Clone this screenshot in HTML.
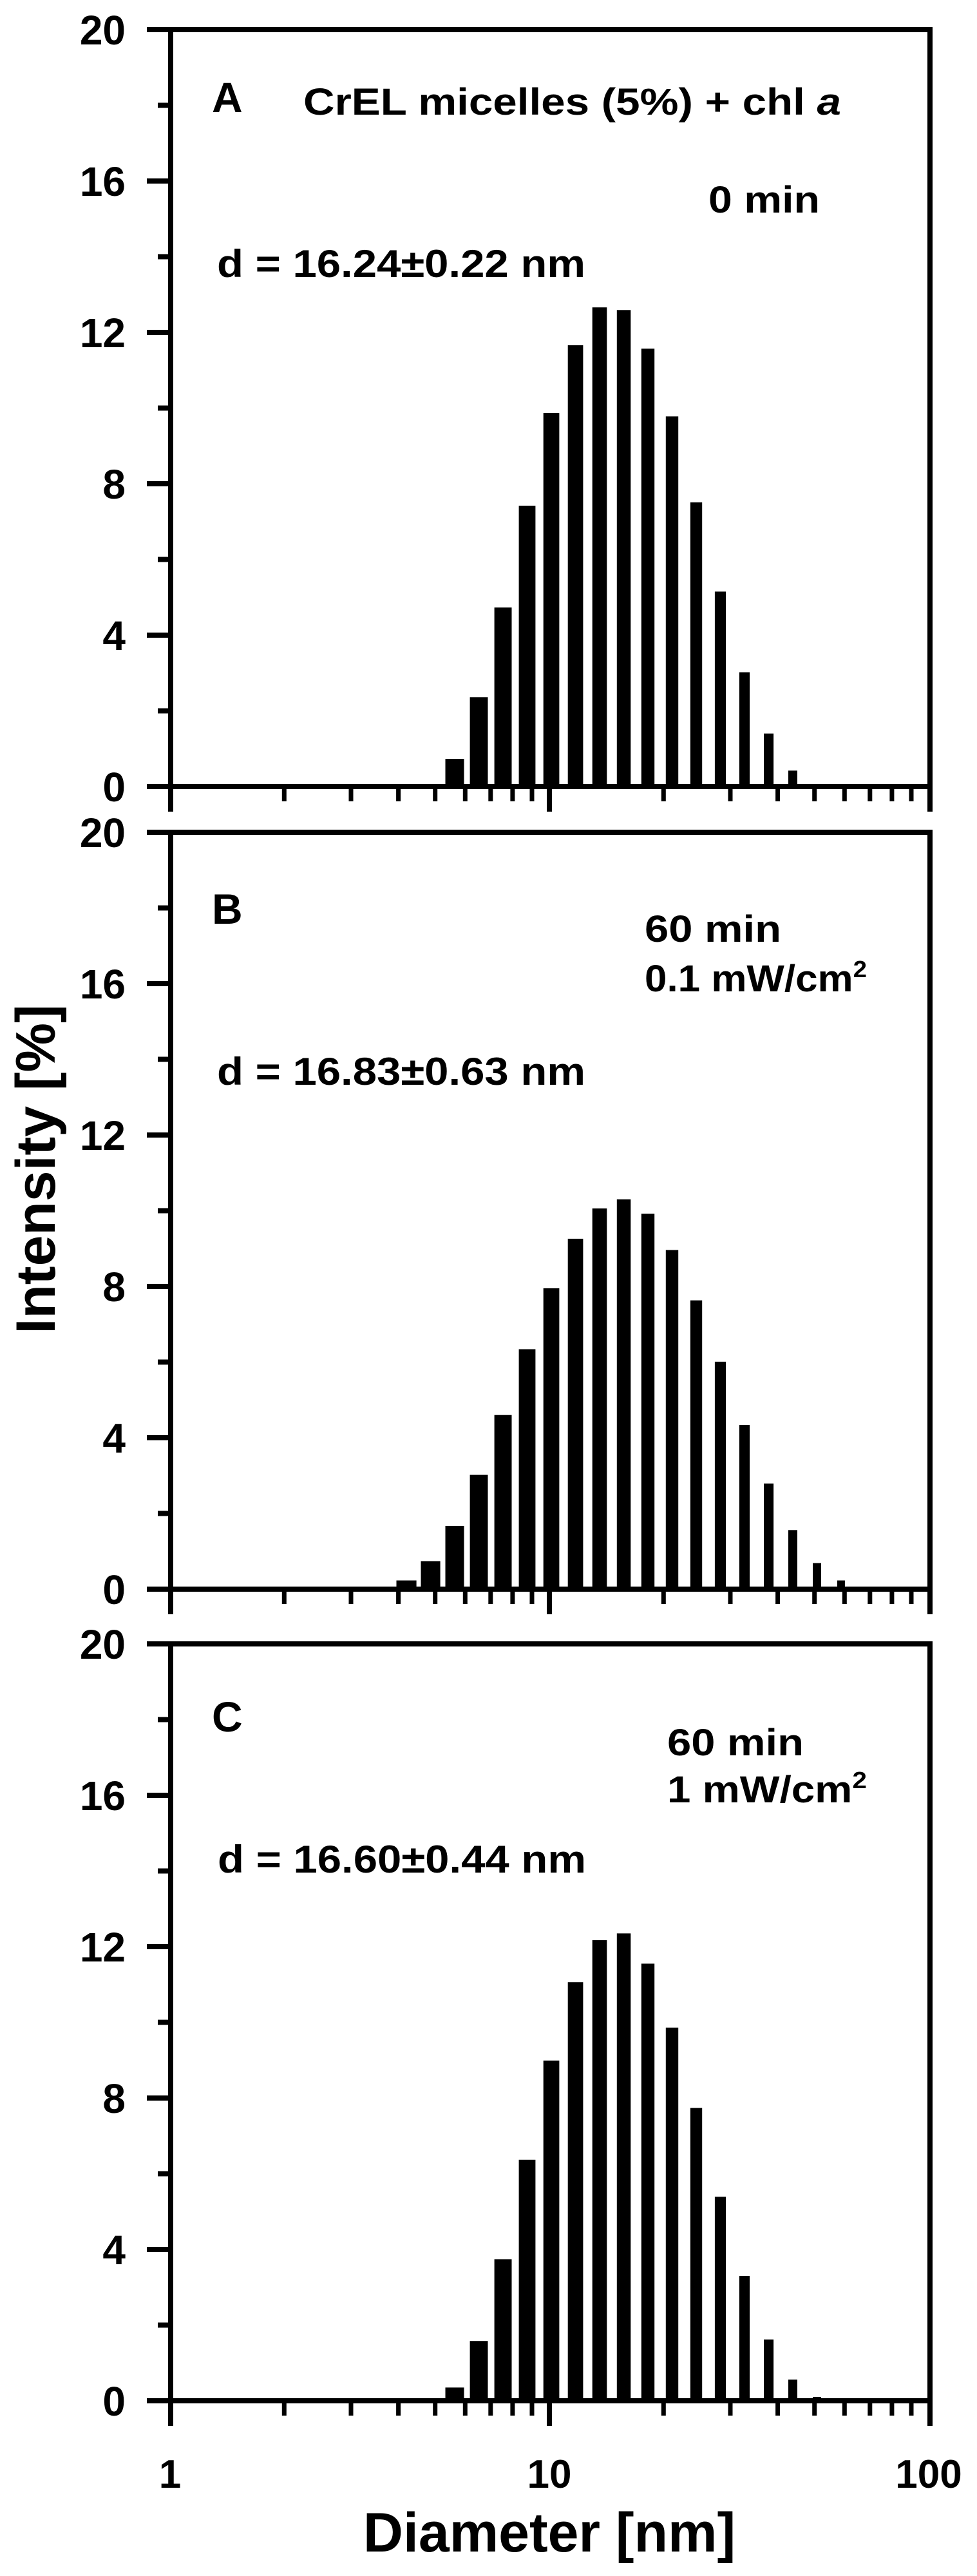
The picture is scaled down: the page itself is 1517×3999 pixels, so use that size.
<!DOCTYPE html>
<html><head><meta charset="utf-8"><style>html,body{margin:0;padding:0;background:#fff}svg{display:block}</style></head>
<body>
<svg xmlns="http://www.w3.org/2000/svg" width="1517" height="3999" viewBox="0 0 1517 3999" font-family="Liberation Sans, Arial, sans-serif" font-weight="bold" fill="#000">
<defs>
<g id="ax" stroke="#000" fill="none">
<line x1="261" y1="46" x2="1448" y2="46" stroke-width="8"/>
<line x1="265" y1="42" x2="265" y2="1260" stroke-width="8"/>
<line x1="1444" y1="42" x2="1444" y2="1260" stroke-width="8"/>
<line x1="228" y1="1221" x2="1448" y2="1221" stroke-width="8"/>
<g stroke-width="8">
<line x1="228" y1="1221" x2="265" y2="1221"/><line x1="228" y1="986" x2="265" y2="986"/><line x1="228" y1="751" x2="265" y2="751"/><line x1="228" y1="516" x2="265" y2="516"/><line x1="228" y1="281" x2="265" y2="281"/><line x1="228" y1="46" x2="265" y2="46"/>
<line x1="245" y1="1103.5" x2="265" y2="1103.5"/><line x1="245" y1="868.5" x2="265" y2="868.5"/><line x1="245" y1="633.5" x2="265" y2="633.5"/><line x1="245" y1="398.5" x2="265" y2="398.5"/><line x1="245" y1="163.5" x2="265" y2="163.5"/>
<line x1="853" y1="1221" x2="853" y2="1260"/>
</g>
<g stroke-width="7">
<line x1="441.3" y1="1221" x2="441.3" y2="1244"/><line x1="545" y1="1221" x2="545" y2="1244"/><line x1="618.6" y1="1221" x2="618.6" y2="1244"/><line x1="675.7" y1="1221" x2="675.7" y2="1244"/><line x1="722.3" y1="1221" x2="722.3" y2="1244"/><line x1="761.8" y1="1221" x2="761.8" y2="1244"/><line x1="795.9" y1="1221" x2="795.9" y2="1244"/><line x1="826" y1="1221" x2="826" y2="1244"/>
<line x1="1030.3" y1="1221" x2="1030.3" y2="1244"/><line x1="1134" y1="1221" x2="1134" y2="1244"/><line x1="1207.6" y1="1221" x2="1207.6" y2="1244"/><line x1="1264.7" y1="1221" x2="1264.7" y2="1244"/><line x1="1311.3" y1="1221" x2="1311.3" y2="1244"/><line x1="1350.8" y1="1221" x2="1350.8" y2="1244"/><line x1="1384.9" y1="1221" x2="1384.9" y2="1244"/><line x1="1415" y1="1221" x2="1415" y2="1244"/>
</g>
</g>
</defs>

<!-- Panel A -->
<use href="#ax"/>
<g font-size="64" text-anchor="end">
<text x="195" y="1244">0</text><text x="195" y="1009">4</text><text x="195" y="774">8</text><text x="195" y="539">12</text><text x="195" y="304">16</text><text x="195" y="69">20</text>
</g>
<text x="329" y="174" font-size="66">A</text>
<text x="471" y="178" font-size="58" textLength="835" lengthAdjust="spacingAndGlyphs">CrEL micelles (5%) + chl <tspan font-style="italic">a</tspan></text>
<text x="1100" y="330" font-size="58" textLength="173" lengthAdjust="spacingAndGlyphs">0 min</text>
<text x="337" y="430" font-size="60" textLength="572" lengthAdjust="spacingAndGlyphs">d = 16.24±0.22 nm</text>
<g>
<rect x="691.5" y="1178.1" width="29" height="42.9"/>
<rect x="729.6" y="1082.3" width="27.9" height="138.7"/>
<rect x="767.6" y="943.1" width="26.9" height="277.9"/>
<rect x="805.6" y="785.1" width="25.8" height="435.9"/>
<rect x="843.7" y="641.1" width="24.7" height="579.9"/>
<rect x="881.7" y="536" width="23.7" height="685"/>
<rect x="919.7" y="477.2" width="22.6" height="743.8"/>
<rect x="957.8" y="481.3" width="21.5" height="739.7"/>
<rect x="995.8" y="541.3" width="20.4" height="679.7"/>
<rect x="1033.8" y="646.4" width="19.4" height="574.6"/>
<rect x="1071.9" y="779.8" width="18.3" height="441.2"/>
<rect x="1109.9" y="918.4" width="17.2" height="302.6"/>
<rect x="1147.9" y="1043.6" width="16.2" height="177.4"/>
<rect x="1186" y="1138.7" width="15.1" height="82.3"/>
<rect x="1224" y="1196.3" width="14" height="24.7"/>
</g>

<!-- Panel B -->
<use href="#ax" transform="translate(0,1246)"/>
<g font-size="64" text-anchor="end">
<text x="195" y="2490">0</text><text x="195" y="2255">4</text><text x="195" y="2020">8</text><text x="195" y="1785">12</text><text x="195" y="1550">16</text><text x="195" y="1315">20</text>
</g>
<text x="329" y="1434" font-size="66">B</text>
<text x="1001" y="1462" font-size="58" textLength="212" lengthAdjust="spacingAndGlyphs">60 min</text>
<text x="1001" y="1539" font-size="58" textLength="345" lengthAdjust="spacingAndGlyphs">0.1 mW/cm<tspan font-size="36" dy="-22">2</tspan></text>
<text x="337" y="1684" font-size="60" textLength="572" lengthAdjust="spacingAndGlyphs">d = 16.83±0.63 nm</text>
<g>
<rect x="615.5" y="2453.5" width="31.1" height="13.5"/>
<rect x="653.5" y="2423.5" width="30.1" height="43.5"/>
<rect x="691.5" y="2368.9" width="29" height="98.1"/>
<rect x="729.6" y="2289.6" width="27.9" height="177.4"/>
<rect x="767.6" y="2196.7" width="26.9" height="270.3"/>
<rect x="805.6" y="2094.5" width="25.8" height="372.5"/>
<rect x="843.7" y="1999.9" width="24.7" height="467.1"/>
<rect x="881.7" y="1923" width="23.7" height="544"/>
<rect x="919.7" y="1876" width="22.6" height="591"/>
<rect x="957.8" y="1861.9" width="21.5" height="605.1"/>
<rect x="995.8" y="1884.2" width="20.4" height="582.8"/>
<rect x="1033.8" y="1940.6" width="19.4" height="526.4"/>
<rect x="1071.9" y="2018.7" width="18.3" height="448.3"/>
<rect x="1109.9" y="2113.9" width="17.2" height="353.1"/>
<rect x="1147.9" y="2212" width="16.2" height="255"/>
<rect x="1186" y="2303.1" width="15.1" height="163.9"/>
<rect x="1224" y="2375.3" width="14" height="91.7"/>
<rect x="1262.1" y="2426.5" width="12.9" height="40.5"/>
<rect x="1300" y="2453.5" width="11.9" height="13.5"/>
</g>

<!-- Panel C -->
<use href="#ax" transform="translate(0,2506)"/>
<g font-size="64" text-anchor="end">
<text x="195" y="3750">0</text><text x="195" y="3515">4</text><text x="195" y="3280">8</text><text x="195" y="3045">12</text><text x="195" y="2810">16</text><text x="195" y="2575">20</text>
</g>
<text x="329" y="2688" font-size="66">C</text>
<text x="1036" y="2725" font-size="58" textLength="212" lengthAdjust="spacingAndGlyphs">60 min</text>
<text x="1036" y="2798" font-size="58" textLength="310" lengthAdjust="spacingAndGlyphs">1 mW/cm<tspan font-size="36" dy="-22">2</tspan></text>
<text x="338" y="2907" font-size="60" textLength="572" lengthAdjust="spacingAndGlyphs">d = 16.60±0.44 nm</text>
<g>
<rect x="691.5" y="3706.4" width="29" height="20.6"/>
<rect x="729.6" y="3634.2" width="27.9" height="92.8"/>
<rect x="767.6" y="3507.3" width="26.9" height="219.7"/>
<rect x="805.6" y="3352.8" width="25.8" height="374.2"/>
<rect x="843.7" y="3198.8" width="24.7" height="528.2"/>
<rect x="881.7" y="3077.2" width="23.7" height="649.8"/>
<rect x="919.7" y="3012" width="22.6" height="715"/>
<rect x="957.8" y="3001.4" width="21.5" height="725.6"/>
<rect x="995.8" y="3048.4" width="20.4" height="678.6"/>
<rect x="1033.8" y="3147.7" width="19.4" height="579.3"/>
<rect x="1071.9" y="3272.3" width="18.3" height="454.7"/>
<rect x="1109.9" y="3410.3" width="17.2" height="316.7"/>
<rect x="1147.9" y="3533.1" width="16.2" height="193.9"/>
<rect x="1186" y="3631.8" width="15.1" height="95.2"/>
<rect x="1224" y="3694.1" width="14" height="32.9"/>
<rect x="1262.1" y="3721" width="12.9" height="6"/>
</g>

<!-- X axis labels -->
<g font-size="62" text-anchor="middle">
<text x="264" y="3862">1</text><text x="853" y="3862">10</text><text x="1442" y="3862">100</text>
</g>
<text x="853" y="3961" font-size="86" text-anchor="middle">Diameter [nm]</text>
<text transform="translate(85,1815) rotate(-90)" font-size="86" text-anchor="middle">Intensity [%]</text>
</svg>
</body></html>
